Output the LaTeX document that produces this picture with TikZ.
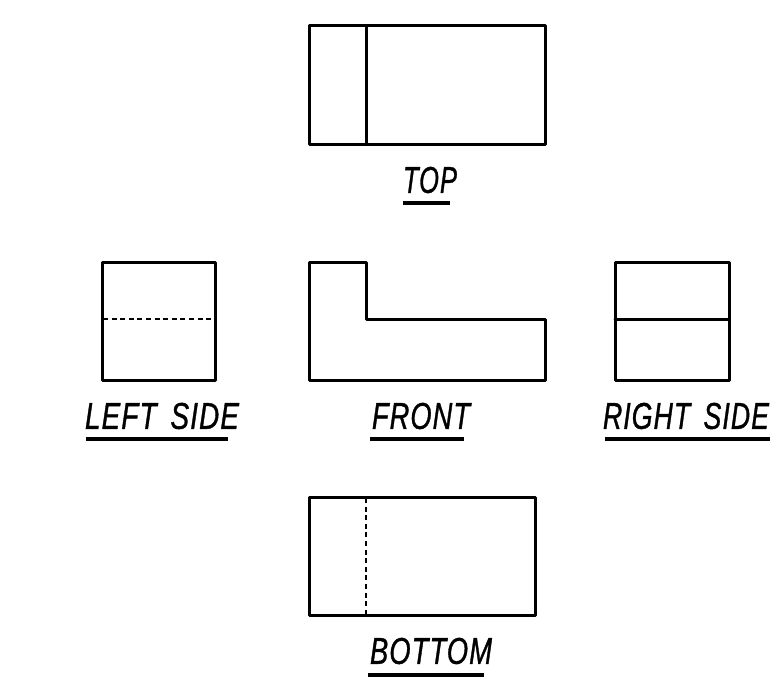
\documentclass[tikz,border=0pt]{standalone}
\usepackage{fontspec}
\usepackage{graphicx}
\setmainfont{Liberation Sans}
\newfontfamily\lblfont[LetterSpace=4,FakeBold=1.2]{Liberation Sans Italic}
\newcommand{\lbl}[3]{\resizebox{#1pt}{#2pt}{\lblfont #3}}
\tikzset{
  outline/.style={line width=3pt,line join=round,line cap=round},
  hidden/.style={line width=1.8pt,dash pattern=on 5pt off 3.6pt},
  rule/.style={line width=3.2pt},
  viewname/.style={inner sep=0pt,outer sep=0pt,anchor=center}
}
\begin{document}
\begin{tikzpicture}[x=1pt,y=-1pt]
\useasboundingbox (0,0) rectangle (770,682);
% top view
\draw[outline] (309,26) rectangle (545,144);
\draw[outline] (366,26) -- (366,144);
\node[viewname] (top) at (430,180) {\lbl{54}{26}{TOP}};
\draw[rule] (403,203) -- (450,203);
% left side
\draw[outline] (102,262) rectangle (215,380);
\draw[hidden] (103,319) -- (214,319);
\node[viewname] (left) at (162,416) {\lbl{154}{26}{LEFT\hspace{0.5em}SIDE}};
\draw[rule] (86,439) -- (228,439);
% front
\draw[outline] (309,262) -- (366,262) -- (366,319) -- (545,319) -- (545,380) -- (309,380) -- cycle;
\node[viewname] (front) at (421,416) {\lbl{98}{26}{FRONT}};
\draw[rule] (370,439) -- (464,439);
% right side
\draw[outline] (615,262) rectangle (729,380);
\draw[outline] (615,319) -- (729,319);
\node[viewname] (right) at (686,416) {\lbl{166}{26}{RIGHT\hspace{0.5em}SIDE}};
\draw[rule] (605,439) -- (770,439);
% bottom
\draw[outline] (309,497) rectangle (535,615);
\draw[hidden] (366,498) -- (366,614);
\node[viewname] (bottom) at (431,651) {\lbl{122}{26}{BOTTOM}};
\draw[rule] (368,675) -- (484,675);
\end{tikzpicture}
\end{document}
